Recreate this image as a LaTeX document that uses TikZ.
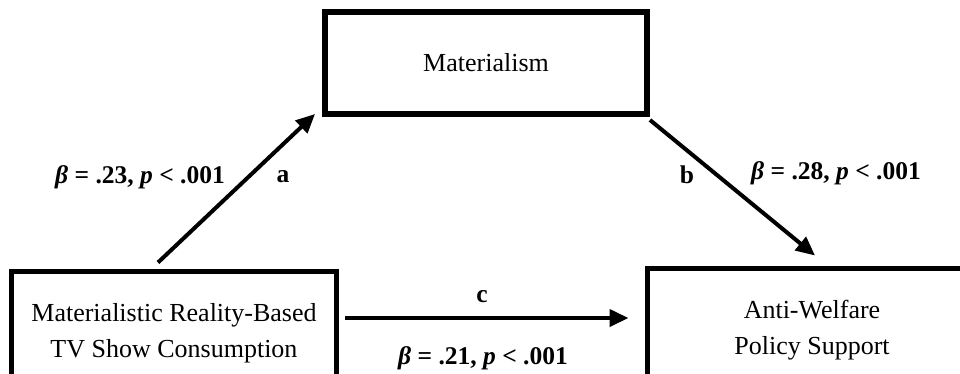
\documentclass[tikz,border=0pt]{standalone}
\usepackage{fontspec}
\setmainfont{Liberation Serif}
\usetikzlibrary{arrows.meta}
\begin{document}
\begin{tikzpicture}[x=1pt,y=1pt,
  box/.style={draw=black,rectangle,align=center,inner sep=0pt,font=\fontsize{26}{36}\selectfont},
  arr/.style={line width=4pt,-{Triangle[length=19pt,width=17pt]}},
  lab/.style={inner sep=0pt,font=\fontsize{25.5}{28}\selectfont\bfseries}]
\useasboundingbox (0,0) rectangle (960,-373);
\clip (0,0) rectangle (960,-373);
\fill[white] (0,0) rectangle (960,-373);
\node[box,line width=6pt,minimum width=322pt,minimum height=102pt] (m) at (486,-63) {Materialism};
\node[box,line width=5pt,minimum width=325pt,minimum height=124pt] (lb) at (174,-333) {Materialistic Reality-Based\\TV Show Consumption};
\node[box,line width=5pt,minimum width=330pt,minimum height=124pt] (rb) at (812,-330) {Anti-Welfare\\Policy Support};
\draw[arr] ([shift={(-16,6)}]lb.north) -- ([shift={(-7,3)}]m.south west);
\draw[arr] ([shift={(0,-3)}]m.south east) -- ([shift={(3,10)}]rb.north);
\draw[arr] ([shift={(6,15)}]lb.east) -- ([shift={(-16,12)}]rb.west);
\node[lab] (la) at (140,-177) {\textit{β} = .23, \textit{p} < .001};
\node[lab] (na) at (283,-177) {a};
\node[lab] (nb) at (687,-175) {b};
\node[lab] (lbb) at (836,-173) {\textit{β} = .28, \textit{p} < .001};
\node[lab] (nc) at (482,-297) {c};
\node[lab] (lc) at (483,-358) {\textit{β} = .21, \textit{p} < .001};
\end{tikzpicture}
\end{document}
